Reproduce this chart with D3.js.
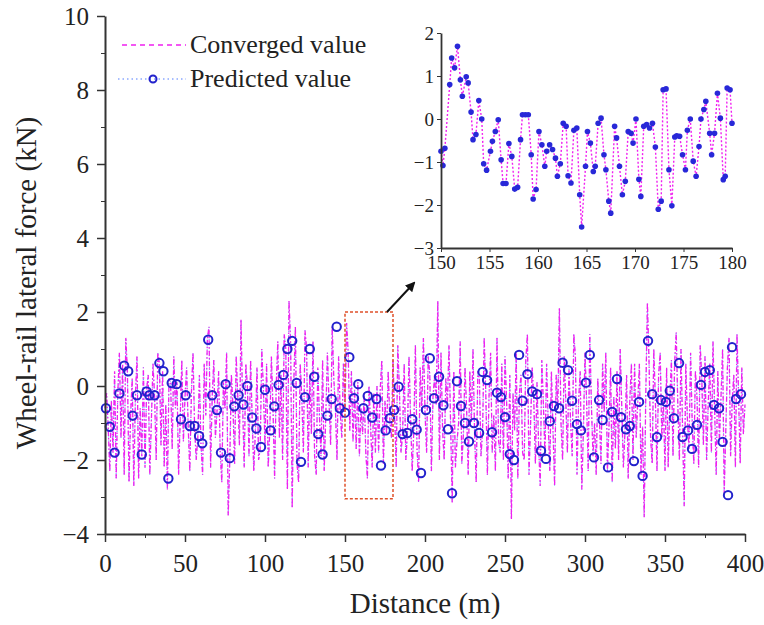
<!DOCTYPE html>
<html>
<head>
<meta charset="utf-8">
<script src="https://cdn.jsdelivr.net/npm/d3@7"></script>
<style>
  body { margin: 0; background: #fff; }
  svg { display: block; }
  svg text { font-family: "Liberation Serif", "Times New Roman", "DejaVu Serif", serif; }
  .axis path, .axis line { stroke: #333; }
  .axis text { fill: #222; }
</style>
</head>
<body>
<div id="chart"></div>
<script>
// Converged value, sampled every 1 m from 0 to 400 m (kN)
const convergedForce = [
  -0.6, -0.2, -1.1, -2.3, -0.4, -1.8, 0.4, -2.5, -0.2, 0.9,
  -1.4, 0.6, -2.4, 1.3, 0.4, -2.6, -0.8, 0.2, -2.7, -0.3,
  0.8, -2.5, -0.6, -1.9, 0.5, -2.2, -0.1, 0.3, -2.4, -0.9,
  0.6, -0.3, -2.0, 0.9, 0.6, -1.6, 0.4, -2.2, -0.5, -2.8,
  0.2, 0.1, -1.7, 0.8, -0.6, 0.1, -2.4, -0.9, 0.7, -1.5,
  -0.3, 0.5, -1.1, -2.3, -0.2, 0.9, -1.1, -2.0, -1.4, 0.3,
  -1.6, -2.4, 0.6, -0.8, 1.3, 1.6, -2.2, -0.3, 0.7, -1.4,
  -0.7, 0.4, -1.8, -2.6, 0.1, -0.6, 0.9, -3.5, -2.0, 0.3,
  -0.6, -2.1, 0.8, -0.3, -1.6, 1.8, -0.5, -2.2, 0.6, 0.0,
  -1.9, 0.7, -0.9, -2.3, -1.2, 0.5, -2.0, -1.7, 1.0, -0.1,
  -1.6, 0.6, -2.2, -1.2, 0.8, -0.6, -2.5, 0.0, 1.2, -1.4,
  0.3, -2.0, 1.4, 1.0, -2.8, 2.3, 1.2, -3.3, 0.1, 1.6,
  -2.1, -2.6, 0.6, -0.3, -1.8, 1.5, 1.0, -2.2, 0.3, -1.3,
  1.2, -1.9, -2.4, 0.5, -0.8, -1.9, 0.7, -2.3, -0.8, 0.9,
  -0.4, -1.6, 1.6, 0.2, -0.6, -2.0, 0.8, -0.7, -1.4, 0.6,
  -0.7, 1.7, 0.9, -1.2, 0.4, -1.5, -0.1, -1.7, 0.1, -1.9,
  -0.6, -1.3, -0.2, -1.8, -2.5, 0.0, -1.1, -2.2, -0.2, -1.8,
  0.0, -1.8, -0.1, 0.7, -2.1, -0.4, -1.3, 0.4, -0.9, -1.4,
  0.7, -0.7, -2.2, 1.1, -0.1, -1.8, -1.3, 0.6, -2.0, -1.3,
  0.8, -0.9, -2.3, -1.2, 1.1, -1.7, -2.6, 0.5, -0.7, 1.3,
  -0.7, -1.8, 0.8, 0.3, -2.3, -0.3, 0.3, -0.5, 2.3, -2.0,
  0.9, -1.2, -2.0, 0.2, -0.5, 1.1, -1.0, -3.15, 0.4, -2.2,
  -1.5, -1.0, 1.2, -2.1, -1.3, 0.5, -0.6, -2.4, 0.4, -1.0,
  1.0, -1.3, -2.6, 0.4, 0.2, -1.9, -1.2, 1.3, -0.2, -2.4,
  -0.3, 0.9, -1.8, -0.8, -2.3, 1.3, -1.5, -1.8, 0.6, -2.0,
  0.8, -0.4, -2.5, 0.3, -3.6, -0.2, -1.2, 0.9, -2.5, -0.2,
  0.3, -1.8, -2.0, 0.7, 1.4, -2.4, -1.0, 0.5, -0.4, -2.1,
  0.1, -1.6, -2.7, 0.7, -0.5, -1.9, 0.6, -1.0, -2.3, 0.4,
  -1.2, -2.7, 0.3, -0.6, 2.1, -1.0, -2.0, 0.8, -0.4, -1.8,
  0.5, -1.0, -1.9, 1.4, 0.8, -2.4, -0.4, 0.4, -2.8, -1.2,
  0.9, -0.4, -2.3, 1.4, -0.5, -1.9, -1.0, -2.4, 0.2, -0.9,
  -2.1, 0.6, -0.7, 0.9, -2.3, -1.1, 0.5, -2.6, -0.3, -1.7,
  0.4, -2.0, 1.0, -0.6, -2.2, -1.2, 0.3, -2.5, -0.4, 0.6,
  -2.0, 0.6, -1.4, -0.4, 0.6, -2.4, -1.1, -3.55, -0.2, 2.25,
  0.7, -1.4, -2.1, 1.0, -0.4, -2.3, 0.3, 0.9, -1.4, -0.4,
  -2.3, 0.5, -2.2, -0.4, 0.7, -1.9, 0.6, 1.45, -0.5, -2.0,
  1.0, -1.2, -3.25, 0.6, -0.9, -1.7, 0.9, -1.0, -2.1, 0.4,
  -0.3, -2.2, 1.1, 0.2, -1.6, 0.8, -2.0, -0.5, 0.6, -1.8,
  1.2, -0.6, -2.4, 0.4, -1.5, -0.3, 1.0, -2.9, -1.2, 0.5,
  1.3, -1.9, -0.4, 0.3, -2.2, 1.4, -0.3, -2.1, 0.5, -1.3,
  -0.5
];
const convergedDist = convergedForce.map((_, i) => i);

// Predicted value markers (distance m, force kN)
const predictedDist = [
  0.6, 3, 6, 9, 12, 14.5, 17.3, 20, 23, 26, 27.7, 31, 34, 36.5, 39.6, 41.7, 44.8, 47.5,
  50.4, 53, 56, 58.8, 60.8, 64.5, 67, 70, 72.5, 75.4, 78, 80.8, 83.5, 86.5, 89, 92, 94.6, 97.5,
  100, 103.5, 105.8, 108.5, 111.5, 114, 117, 119.8, 122.5, 125, 128, 130.8, 133.3, 136, 139, 141.7,
  144.8, 146.8, 150, 152.7, 155.6, 158.3, 161.5, 164.2, 167, 169.7, 172.5, 175.4, 178, 180.7, 183.5,
  186, 189, 192, 194.8, 197.5, 200.6, 203, 205.6, 208.8, 211.5, 214.4, 216.9, 220, 222.5, 225,
  227.5, 230.6, 233.8, 236, 238.8, 241.9, 245, 247.5, 250, 253, 255.6, 258.8, 261, 264, 267, 270,
  272.5, 275.6, 278, 280.6, 283.8, 286, 289.4, 291.9, 295, 297.5, 300.6, 303, 305.6, 308.8, 311,
  314.4, 316.9, 320, 322.5, 325.6, 328, 330.6, 333.8, 336, 339.4, 342, 345, 347.5, 350.6, 353,
  355.6, 358.8, 361, 364.4, 366.9, 370, 372.5, 375, 378, 380.6, 383.8, 386, 389.4, 391.9, 394.4, 397.5
];
const predictedForce = [
  -0.6, -1.1, -1.8, -0.2, 0.55, 0.4, -0.8, -0.25, -1.85, -0.15, -0.25, -0.25, 0.62, 0.4, -2.5, 0.08, 0.05, -0.9,
  -0.25, -1.08, -1.08, -1.35, -1.55, 1.25, -0.25, -0.65, -1.8, 0.05, -1.95, -0.55, -0.25, -0.5, 0.0, -0.85, -1.15, -1.65,
  -0.1, -1.2, -0.55, 0.03, 0.3, 1.0, 1.22, 0.08, -2.05, -0.3, 1.0, 0.25, -1.3, -1.85, -0.8, -0.35,
  1.6, -0.6, -0.72, 0.78, -0.33, 0.05, -0.6, -0.27, -0.85, -0.35, -2.15, -1.2, -0.87, -0.65, -0.02,
  -1.3, -1.27, -0.9, -1.18, -2.35, -0.65, 0.75, -0.33, 0.25, -0.52, -1.17, -2.9, 0.13, -0.54, -1.0,
  -1.5, -1.0, -1.27, 0.38, 0.16, -1.25, -0.18, -0.3, -0.84, -1.84, -2.0, 0.84, -0.4, 0.32, -0.15, -0.22,
  -1.75, -1.97, -0.95, -0.54, -0.6, 0.63, 0.43, -0.4, -1.03, -1.2, 0.09, 0.84, -1.93, -0.38, -0.92,
  -2.2, -0.7, 0.19, -0.84, -1.17, -1.08, -2.03, -0.43, -2.43, 1.22, -0.22, -1.38, -0.38, -0.43, -0.13,
  -0.87, 0.62, -1.38, -1.2, -1.7, -1.05, 0.03, 0.38, 0.43, -0.51, -0.6, -1.51, -2.95, 1.05, -0.35, -0.22
];

// Inset: zoom of 150-180 m
const insetDist = [
  150.0, 150.2, 150.4, 150.9, 151.1, 151.4, 151.7, 152.0, 152.2, 152.6, 152.8, 153.1, 153.3, 153.6,
  153.9, 154.2, 154.4, 154.7, 155.1, 155.3, 155.6, 155.9, 156.2, 156.4, 156.7, 157.0, 157.3, 157.6,
  157.9, 158.2, 158.4, 158.7, 159.0, 159.3, 159.5, 159.8, 160.1, 160.4, 160.7, 160.9, 161.2, 161.5,
  161.8, 162.0, 162.3, 162.6, 162.9, 163.1, 163.4, 163.7, 164.0, 164.3, 164.5, 164.9, 165.1, 165.4,
  165.7, 165.9, 166.2, 166.5, 166.8, 167.0, 167.3, 167.5, 167.9, 168.1, 168.4, 168.7, 169.0, 169.3,
  169.6, 169.8, 170.1, 170.4, 170.6, 170.9, 171.2, 171.5, 171.8, 172.1, 172.4, 172.7, 172.9, 173.2,
  173.5, 173.8, 174.1, 174.3, 174.6, 174.9, 175.2, 175.4, 175.7, 176.0, 176.3, 176.6, 176.8, 177.1,
  177.3, 177.7, 177.9, 178.2, 178.5, 178.8, 179.1, 179.3, 179.5, 179.8, 180.0
];
const insetForce = [
  -0.75, -1.08, -0.68, 0.8, 1.42, 1.19, 1.69, 0.91, 0.53, 0.98, 0.84, 0.16, -0.48, -0.36,
  0.43, 0.0, -1.04, -1.19, -0.75, -0.52, -0.29, -0.02, -0.95, -1.5, -1.5, -0.57, -0.87, -1.63,
  -1.59, -0.48, 0.1, 0.1, 0.1, -0.83, -1.86, -1.64, -0.29, -0.6, -1.1, -0.75, -0.6, -0.71,
  -0.91, -1.33, -1.04, -0.1, -0.17, -1.32, -1.49, -0.26, -0.21, -1.76, -2.51, -1.1, -0.29, -0.56,
  -1.22, -1.1, -0.1, 0.02, -0.83, -1.18, -1.91, -2.19, -0.17, -0.44, -1.1, -1.76, -1.45, -0.29,
  -0.33, -0.56, 0.0, -1.4, -1.8, -0.17, -0.13, -0.21, -0.1, -0.65, -2.1, -1.91, 0.68, 0.7,
  -1.18, -2.02, -0.42, -0.39, -0.4, -0.83, -1.18, -0.26, 0.0, -0.98, -1.33, -0.64, 0.0, 0.22,
  0.41, -0.33, -0.83, -0.33, 0.6, 0.02, -1.41, -1.33, 0.72, 0.68, -0.1
];

const xTicks = [0, 50, 100, 150, 200, 250, 300, 350, 400];
const yTicks = [-4, -2, 0, 2, 4, 6, 8, 10];
const insetXTicks = [150, 155, 160, 165, 170, 175, 180];
const insetYTicks = [-3, -2, -1, 0, 1, 2];

const width = 764, height = 625;
const serif = "'Liberation Serif', 'Times New Roman', 'DejaVu Serif', serif";
const magenta = "#f020f0", blue = "#2222cc";
const fmt = d3.format("d");

const svg = d3.select("#chart").append("svg")
  .attr("width", width)
  .attr("height", height)
  .attr("font-family", serif);

const x = d3.scaleLinear().domain([0, 400]).range([105, 745]);
const y = d3.scaleLinear().domain([-4, 10]).range([534, 16]);

// Main lines
const line = d3.line().x(d => x(d[0])).y(d => y(d[1]));
const convPts = convergedDist.map((d, i) => [d, convergedForce[i]]);

svg.append("path")
  .datum(convPts)
  .attr("d", line)
  .attr("fill", "none")
  .attr("stroke", "#5aa0ff")
  .attr("stroke-width", 1)
  .attr("stroke-dasharray", "1,3")
  .attr("stroke-dashoffset", 2);

svg.append("path")
  .datum(convPts)
  .attr("d", line)
  .attr("fill", "none")
  .attr("stroke", magenta)
  .attr("stroke-width", 1.3)
  .attr("stroke-dasharray", "5,2,1.5,2");

svg.append("g")
  .selectAll("circle")
  .data(predictedDist.map((d, i) => [d, predictedForce[i]]))
  .join("circle")
  .attr("cx", d => x(d[0]))
  .attr("cy", d => y(d[1]))
  .attr("r", 4.2)
  .attr("fill", "none")
  .attr("stroke", blue)
  .attr("stroke-width", 2);

// Main axes
const xAxisMinor = svg.append("g").attr("class", "axis")
  .attr("transform", `translate(0,${y(-4)})`)
  .call(d3.axisBottom(x).tickValues(d3.range(25, 400, 50)).tickFormat("").tickSize(4).tickSizeOuter(0));
xAxisMinor.select(".domain").remove();
const xAxisMajor = svg.append("g").attr("class", "axis")
  .attr("transform", `translate(0,${y(-4)})`)
  .call(d3.axisBottom(x).tickValues(xTicks).tickFormat(fmt).tickSize(8).tickSizeOuter(0).tickPadding(12));
xAxisMajor.select(".domain").attr("stroke-width", 2);
xAxisMajor.selectAll("line").attr("stroke-width", 1.5);
xAxisMajor.selectAll("text").attr("font-size", 25).attr("font-family", serif);

const yAxisMinor = svg.append("g").attr("class", "axis")
  .attr("transform", `translate(${x(0)},0)`)
  .call(d3.axisLeft(y).tickValues(d3.range(-3, 10, 2)).tickFormat("").tickSize(4).tickSizeOuter(0));
yAxisMinor.select(".domain").remove();
const yAxisMajor = svg.append("g").attr("class", "axis")
  .attr("transform", `translate(${x(0)},0)`)
  .call(d3.axisLeft(y).tickValues(yTicks).tickFormat(fmt).tickSize(8).tickSizeOuter(0).tickPadding(8));
yAxisMajor.select(".domain").attr("stroke-width", 2);
yAxisMajor.selectAll("line").attr("stroke-width", 1.5);
yAxisMajor.selectAll("text").attr("font-size", 25).attr("font-family", serif);

// Axis titles
svg.append("text")
  .attr("x", 425).attr("y", 613)
  .attr("text-anchor", "middle")
  .attr("font-size", 29)
  .attr("font-family", serif)
  .attr("fill", "#222")
  .text("Distance (m)");

svg.append("text")
  .attr("transform", `translate(36,283) rotate(-90)`)
  .attr("text-anchor", "middle")
  .attr("font-size", 29)
  .attr("font-family", serif)
  .attr("fill", "#222")
  .text("Wheel-rail lateral force (kN)");

// Zoom box and arrow
svg.append("rect")
  .attr("x", x(150)).attr("y", y(2))
  .attr("width", x(180) - x(150))
  .attr("height", y(-3.05) - y(2))
  .attr("fill", "none")
  .attr("stroke", "#e0502a")
  .attr("stroke-width", 1.5)
  .attr("stroke-dasharray", "3,2");

const defs = svg.append("defs");
defs.append("marker")
  .attr("id", "arrowHead")
  .attr("viewBox", "0 0 10 10")
  .attr("refX", 8).attr("refY", 5)
  .attr("markerWidth", 5).attr("markerHeight", 5)
  .attr("orient", "auto")
  .append("path")
  .attr("d", "M0,0 L10,5 L0,10 Z")
  .attr("fill", "#111");

svg.append("line")
  .attr("x1", 387).attr("y1", 312)
  .attr("x2", 414).attr("y2", 283)
  .attr("stroke", "#111")
  .attr("stroke-width", 2)
  .attr("marker-end", "url(#arrowHead)");

// Legend
const legend = svg.append("g").attr("font-size", 26).attr("font-family", serif).attr("fill", "#222");
legend.append("line")
  .attr("x1", 122).attr("x2", 186).attr("y1", 45).attr("y2", 45)
  .attr("stroke", magenta).attr("stroke-width", 1.5)
  .attr("stroke-dasharray", "5,4");
legend.append("text").attr("x", 190).attr("y", 53).text("Converged value");

legend.append("line")
  .attr("x1", 118).attr("x2", 186).attr("y1", 79).attr("y2", 79)
  .attr("stroke", "#8aa8ff").attr("stroke-width", 1.5)
  .attr("stroke-dasharray", "1.5,3");
legend.append("circle")
  .attr("cx", 153).attr("cy", 79).attr("r", 3.5)
  .attr("fill", "none").attr("stroke", blue).attr("stroke-width", 2);
legend.append("text").attr("x", 190).attr("y", 87).text("Predicted value");

// Inset chart
const ix = d3.scaleLinear().domain([150, 180]).range([441, 732]);
const iy = d3.scaleLinear().domain([-3, 2]).range([248, 33]);
const insetPts = insetDist.map((d, i) => [d, insetForce[i]]);
const inset = svg.append("g");

inset.append("path")
  .datum(insetPts)
  .attr("d", d3.line().x(d => ix(d[0])).y(d => iy(d[1])))
  .attr("fill", "none")
  .attr("stroke", magenta)
  .attr("stroke-width", 1.4)
  .attr("stroke-dasharray", "2,2");

inset.append("g")
  .selectAll("circle")
  .data(insetPts)
  .join("circle")
  .attr("cx", d => ix(d[0]))
  .attr("cy", d => iy(d[1]))
  .attr("r", 2.8)
  .attr("fill", "#2828d8");

const ixAxis = inset.append("g").attr("class", "axis")
  .attr("transform", `translate(0,${iy(-3)})`)
  .call(d3.axisBottom(ix).tickValues(insetXTicks).tickFormat(fmt).tickSize(4).tickSizeOuter(0).tickPadding(4));
ixAxis.select(".domain").attr("stroke-width", 1.8);
ixAxis.selectAll("text").attr("font-size", 19).attr("font-family", serif);

const iyAxis = inset.append("g").attr("class", "axis")
  .attr("transform", `translate(${ix(150)},0)`)
  .call(d3.axisLeft(iy).tickValues(insetYTicks).tickFormat(fmt).tickSize(4).tickSizeOuter(0).tickPadding(3));
iyAxis.select(".domain").attr("stroke-width", 1.8);
iyAxis.selectAll("text").attr("font-size", 19).attr("font-family", serif);
</script>
</body>
</html>
